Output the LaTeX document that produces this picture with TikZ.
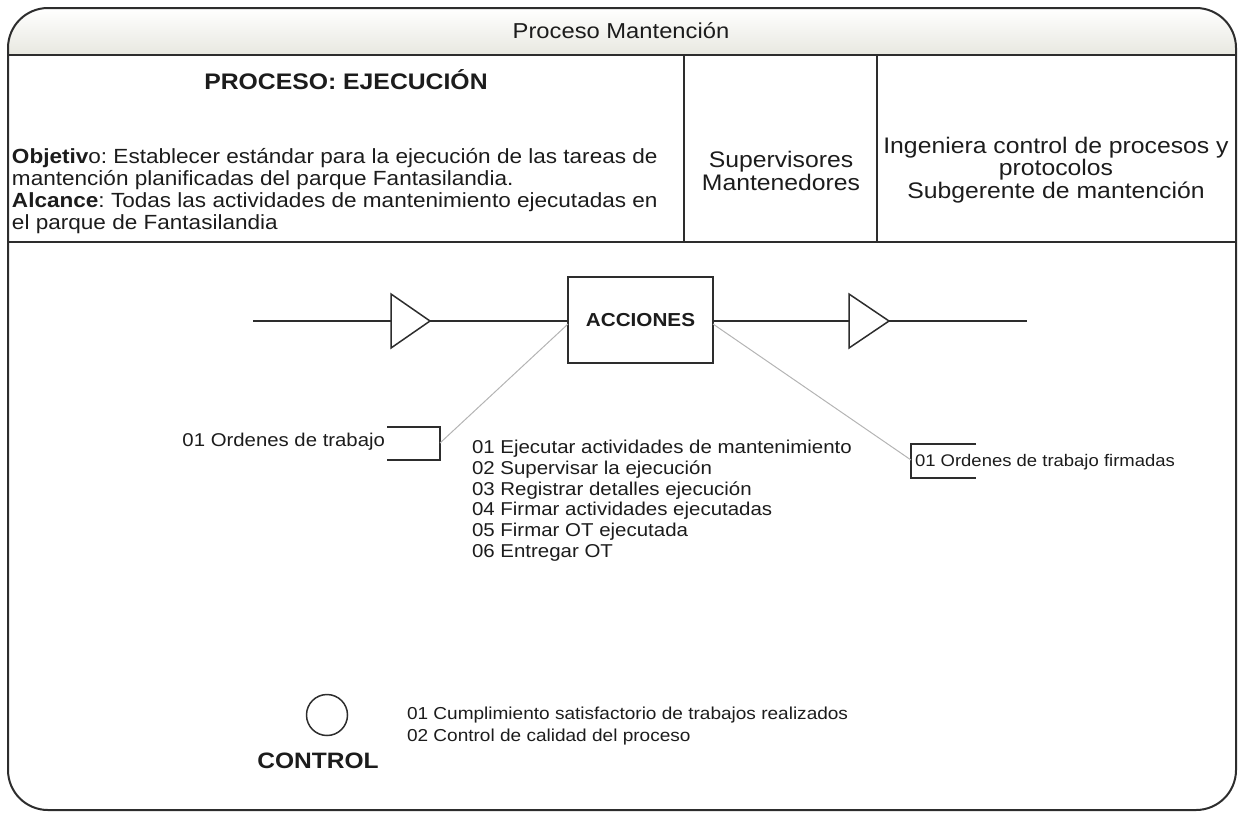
\documentclass[tikz,border=0pt]{standalone}
\usepackage{fontspec}
\setmainfont[FakeStretch=1.1]{Liberation Sans}
\frenchspacing
\definecolor{framec}{RGB}{45,45,45}
\definecolor{hdr}{RGB}{232,232,224}
\definecolor{diag}{RGB}{180,180,180}
\definecolor{txt}{RGB}{28,28,28}
\begin{document}
\begin{tikzpicture}[x=1pt,y=-1pt,
  every node/.style={text=txt, inner sep=0pt, outer sep=0pt},
  hbody/.style={font=\fontsize{20.5}{22}\selectfont},
  colbody/.style={font=\fontsize{22.5}{22.8}\selectfont, align=center},
  body/.style={font=\fontsize{18.5}{22}\selectfont},
  listtxt/.style={font=\fontsize{18.6}{20.8}\selectfont, align=left},
  frameline/.style={draw=framec, line width=2pt},
  flowline/.style={draw=framec, line width=1.5pt},
  diagline/.style={draw=diag, line width=1pt},
  boxstyle/.style={draw=framec, line width=1.8pt, minimum width=145pt, minimum height=86pt}
]
\frenchspacing
\useasboundingbox (0,0) rectangle (1238,812);

% header shading
\begin{scope}
  \clip[rounded corners=40pt] (8,8) rectangle (1236,810);
  \shade[top color=white, bottom color=hdr] (8,8) rectangle (1236,55);
\end{scope}
% outer frame
\draw[frameline, rounded corners=40pt] (8,8) rectangle (1236,810);
% table lines
\draw[frameline] (8,55) -- (1236,55);
\draw[frameline] (8,242) -- (1236,242);
\draw[frameline] (684,55) -- (684,242);
\draw[frameline] (877,55) -- (877,242);

% header texts
\node[font=\fontsize{21.6}{26}\selectfont] (title) at (621,31) {Proceso Mantención};
\node[font=\fontsize{22.5}{26}\selectfont\bfseries] (proc) at (346,80) {PROCESO: EJECUCIÓN};
\node[hbody, align=left, anchor=west] (obj) at (12,191)
  {\textbf{Objetiv}o: Establecer estándar para la ejecución de las tareas de\\
   mantención planificadas del parque Fantasilandia.\\
   \textbf{Alcance}: Todas las actividades de mantenimiento ejecutadas en\\
   el parque de Fantasilandia};
\node[colbody] (sup) at (781,171) {Supervisores\\Mantenedores};
\node[colbody] (ing) at (1056,170) {Ingeniera control de procesos y\\protocolos\\Subgerente de mantención};

% flow
\node[boxstyle, font=\fontsize{18.8}{22}\selectfont\bfseries] (acc) at (640.5,320) {ACCIONES};
\coordinate (l0) at (253,321);
\coordinate (t1b) at (391,321);
\coordinate (t1a) at (430,321);
\coordinate (t2b) at (849,321);
\coordinate (t2a) at (889,321);
\coordinate (r0) at (1027,321);
\draw[flowline, line join=miter] (391,294) -- (t1a) -- (391,348) -- cycle;
\draw[flowline, line join=miter] (849,294) -- (t2a) -- (849,348) -- cycle;
\draw[flowline] (l0) -- (t1b);
\draw[flowline] (t1a) -- (acc.west |- t1a);
\draw[flowline] (acc.east |- t2b) -- (t2b);
\draw[flowline] (t2a) -- (r0);

% inputs
\node[body, anchor=east] (inp) at (385,442) {01 Ordenes de trabajo};
\coordinate (ib) at (440,443);
\draw[flowline] (387,427) -- (440,427) -- (440,460) -- (387,460);
\draw[diagline] (ib) -- ([yshift=-4pt]acc.west);

% outputs
\node[font=\fontsize{16.8}{22}\selectfont, anchor=west] (out) at (915,462) {01 Ordenes de trabajo firmadas};
\coordinate (ob) at (911,460);
\draw[flowline] (976,444) -- (911,444) -- (911,478) -- (976,478);
\draw[diagline] ([yshift=-4pt]acc.east) -- (ob);

% activity list
\node[listtxt, anchor=north west] (acts) at (472,440)
  {01 Ejecutar actividades de mantenimiento\\
   02 Supervisar la ejecución\\
   03 Registrar detalles ejecución\\
   04 Firmar actividades ejecutadas\\
   05 Firmar OT ejecutada\\
   06 Entregar OT};

% control
\node[draw=framec, line width=1.5pt, circle, minimum size=41pt] (ctl) at (327,715) {};
\node[font=\fontsize{22.3}{26}\selectfont\bfseries] (ctltxt) at (318,761) {CONTROL};
\node[font=\fontsize{17.3}{22}\selectfont, align=left, anchor=north west] (ctllist) at (407,707)
  {01 Cumplimiento satisfactorio de trabajos realizados\\
   02 Control de calidad del proceso};
\end{tikzpicture}
\end{document}
